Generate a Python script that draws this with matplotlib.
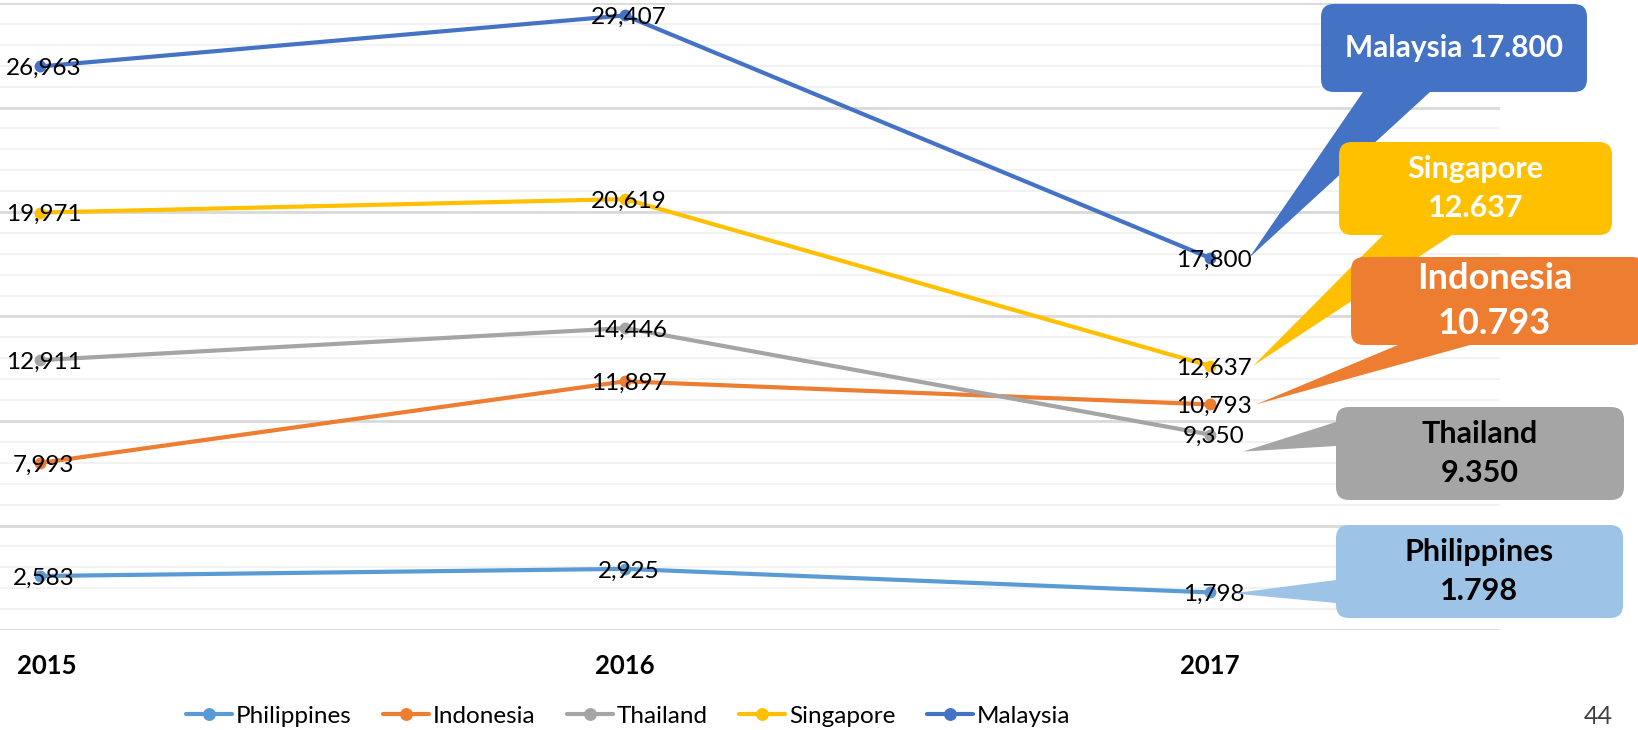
import numpy as np
import matplotlib
matplotlib.use("Agg")
import matplotlib.pyplot as plt
import matplotlib.transforms as mtransforms
from matplotlib.patches import FancyBboxPatch, Polygon

# data
years = ['2015', '2016', '2017']
philippines = [2583, 2925, 1798]
indonesia = [7993, 11897, 10793]
thailand = [12911, 14446, 9350]
singapore = [19971, 20619, 12637]
malaysia = [26963, 29407, 17800]

names = ['Philippines', 'Indonesia', 'Thailand', 'Singapore', 'Malaysia']
series = [philippines, indonesia, thailand, singapore, malaysia]
colors = ['#5B9BD5', '#ED7D31', '#A5A5A5', '#FFC000', '#4472C4']
box_colors = ['#9DC3E6', '#ED7D31', '#A5A5A5', '#FFC000', '#4472C4']

font = ['Lato', 'DejaVu Sans']

W, H = 1638, 730
fig = plt.figure(figsize=(W / 100, H / 100), dpi=100)
fig.patch.set_facecolor('white')

# main plot area (pixel box 0..1500 x 3..630)
ax = fig.add_axes([0, (H - 630) / H, 1500 / W, 627 / H])
x = np.arange(len(years))
for name, vals, c in zip(names, series, colors):
    ax.plot(x, vals, color=c, lw=3, marker='o', ms=7.5, label=name,
            solid_capstyle='round', zorder=3, clip_on=False)
    for xi, v in zip(x, vals):
        ax.annotate(f"{v:,}", (xi, v), xytext=(4, -2),
                    textcoords='offset pixels', ha='center', va='center',
                    fontsize=17.5, family=font, color='black', zorder=4)

ax.set_xlim(-40 / 585, 1460 / 585)
ax.set_ylim(0, 30000)
ax.set_yticks(np.arange(0, 30001, 5000))
ax.set_yticks(np.arange(0, 30001, 1000), minor=True)
ax.grid(which='minor', axis='y', color='#F2F2F2', lw=1.5, zorder=0)
ax.grid(which='major', axis='y', color='#D9D9D9', lw=2, zorder=0)
ax.set_axisbelow(True)
ax.set_xticks(x)
ax.set_xticklabels(years, fontsize=18.5, fontweight='bold', family=font)
ax.tick_params(axis='x', length=0, pad=17)
ax.tick_params(axis='y', which='both', length=0, labelleft=False)
for s in ax.spines.values():
    s.set_visible(False)
# first year label sits a little to the right in the original
lab0 = ax.get_xticklabels()[0]
lab0.set_transform(lab0.get_transform() +
                   mtransforms.ScaledTranslation(7 / 100, 0, fig.dpi_scale_trans))

fig.legend(loc='center', bbox_to_anchor=(628 / W, 1 - 716 / H), ncol=5,
           frameon=False, prop={'family': font, 'size': 17.5},
           handlelength=1.9, columnspacing=1.3, handletextpad=0.15,
           markerscale=1.1)

# overlay in pixel coordinates for the callouts
ov = fig.add_axes([0, 0, 1, 1], zorder=5)
ov.set_xlim(0, W)
ov.set_ylim(H, 0)
ov.axis('off')
ov.patch.set_alpha(0)


def to_px(xv, yv):
    d = ax.transData.transform((xv, yv))
    return ov.transData.inverted().transform(d)


def fmt(v):
    return f"{v:,}".replace(',', '.')


# (series index, box x0, y0, x1, y1, pointer base points, tip offset, text lines, text color, size)
callouts = [
    (4, 1321, 4, 1587, 92, [(1363, 92), (1430, 92)], (39, 0),
     [f"Malaysia {fmt(malaysia[2])}"], 'white', 21.5),
    (3, 1339, 142, 1612, 235, [(1383, 235), (1452, 235)], (43, 0),
     ['Singapore', fmt(singapore[2])], 'white', 22),
    (1, 1351, 257, 1645, 345, [(1398, 345), (1470, 345)], (46, 0),
     ['Indonesia', fmt(indonesia[2])], 'white', 26),
    (2, 1336, 407, 1624, 500, [(1336, 422), (1336, 446)], (33, 17),
     ['Thailand', fmt(thailand[2])], 'black', 22),
    (0, 1336, 525, 1623, 618, [(1336, 580), (1336, 603)], (23, 1),
     ['Philippines', fmt(philippines[2])], 'black', 22),
]

for idx, x0, y0, x1, y1, base, off, lines, tc, fs in callouts:
    col = box_colors[idx]
    px, py = to_px(2, series[idx][2])
    tip = (px + off[0], py + off[1])
    ov.add_patch(Polygon([base[0], base[1], tip], closed=True, fc=col,
                         ec='none', zorder=2))
    ov.add_patch(FancyBboxPatch((x0, y0), x1 - x0, y1 - y0,
                                boxstyle='round,pad=0,rounding_size=13',
                                fc=col, ec='none', zorder=3))
    cx = (x0 + min(x1, W)) / 2
    cy = (y0 + y1) / 2
    ov.text(cx, cy, '\n'.join(lines), ha='center', va='center',
            color=tc, fontsize=fs, fontweight='bold', family=font,
            linespacing=1.45, zorder=4)

ov.text(1598, 716, '44', ha='center', va='center', fontsize=18,
        family=font, color='#404040')

fig.savefig('out.png', dpi=100)
